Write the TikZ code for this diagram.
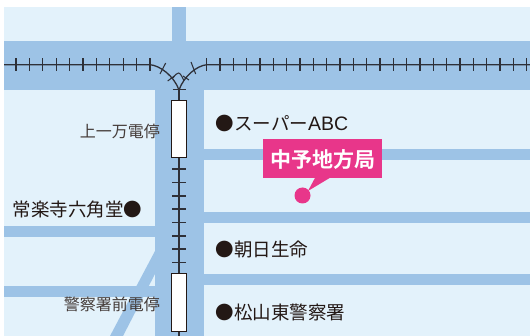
\documentclass[tikz,border=0pt]{standalone}
\usepackage{fontspec}
\setmainfont{Noto Sans CJK JP}
\newfontfamily\cjkbold[BoldFont={Noto Sans CJK JP Bold}]{Noto Sans CJK JP}
\newfontfamily\latinlabel{Liberation Sans}
\definecolor{landc}{HTML}{E3F2FB}
\definecolor{roadc}{HTML}{9DC3E6}
\definecolor{railc}{HTML}{2E3038}
\definecolor{pinkc}{HTML}{E8368A}
\definecolor{textc}{HTML}{231815}
\tikzset{
  road/.style={fill=roadc,draw=none},
  railway/.style={draw=railc,line width=1.3pt},
  tie/.style={draw=railc,line width=1.05pt},
  stopbox/.style={draw=textc,fill=white,line width=1pt,minimum width=15pt,inner sep=0pt},
  placelabel/.style={anchor=west,inner sep=0pt,text=textc,font=\fontsize{18.5}{18.5}\selectfont},
  stoplabel/.style={anchor=east,inner sep=0pt,text=textc!85!white,font=\fontsize{16}{16}\selectfont}
}
\begin{document}
\begin{tikzpicture}[x=1pt,y=-1pt]
\useasboundingbox (0,0) rectangle (530,336);
\fill[white] (0,0) rectangle (530,336);
\fill[landc] (4,7) rectangle (530,336);
% roads
\fill[road] (172,7) rectangle (186,41);
\fill[road] (4,41) rectangle (530,90);
\fill[road] (155,90) rectangle (204,336);
\fill[road] (204,149) rectangle (530,160);
\fill[road] (204,212) rectangle (530,223);
\fill[road] (204,274) rectangle (530,285);
\fill[road] (4,226) rectangle (155,237);
\fill[road] (4,286) rectangle (155,297);
\fill[road] (155,251) -- (155,274) -- (123,336) -- (110,336) -- cycle;
% rails
\draw[railway] (4,64.7) -- (150,64.7) .. controls (160,65.5) and (174,76) .. (179,90);
\draw[railway] (530,64.7) -- (207,64.7) .. controls (197,65.5) and (184,76) .. (179,90);
\draw[railway] (179,90) -- (179,101);
\draw[railway] (179,158) -- (179,274);
\draw[railway] (179,332) -- (179,336);
\foreach \tx in {16,29.4,42.8,56.2,69.6,83,96.4,109.8,123.2,136.6,150}
  \draw[tie] (\tx,58.5) -- (\tx,71);
\foreach \tx in {206.7,220,233.3,246.6,260,273.3,286.6,300,313.3,326.6,340,353.3,366.6,380,393.3,406.6,420,433.3,446.6,460,473.3,486.6,500,513.3,526.6}
  \draw[tie] (\tx,58.5) -- (\tx,71);
\draw[tie] (160,74) -- (165.7,63);
\draw[tie] (191,62) -- (195.7,74);
\draw[tie] (167.7,81) -- (174.3,76);
\draw[tie] (183,76) -- (189,80);
\draw[tie] (172.7,89.3) -- (186,89.3);
\draw[tie] (173,78) .. controls (175,75) and (177,73) .. (178.5,73) .. controls (180,73) and (182,76) .. (184,81);
\foreach \ty in {169,182.5,196,209,222.5,236,249,262.5}
  \draw[tie] (172,\ty) -- (186,\ty);
% stops
\node[stopbox,minimum height=57pt] (stopa) at (179,129.5) {};
\node[stopbox,minimum height=58pt] (stopb) at (179,303) {};
\node[stoplabel] (stopalabel) at (160,131) {上一万電停};
\node[stoplabel] (stopblabel) at (160,304) {警察署前電停};
% places
\node[placelabel] (super) at (215.5,123.5) {●スーパー{\latinlabel\fontsize{19.5}{19.5}\selectfont ABC}};
\node[placelabel] (temple) at (12.5,209.5) {常楽寺六角堂●};
\node[placelabel] (asahi) at (215.5,249.5) {●朝日生命};
\node[placelabel] (school) at (215.5,312.5) {●松山東警察署};
% callout
\fill[pinkc] (263,139) rectangle (382,178);
\fill[pinkc] (316,176) -- (333,176) -- (308,191) -- cycle;
\node[circle,fill=pinkc,minimum size=16pt,inner sep=0pt] (dot) at (302.5,195.5) {};
\node[text=white,inner sep=0pt,font=\cjkbold\bfseries\fontsize{21}{21}\selectfont] (office) at (322.5,160) {中予地方局};
\end{tikzpicture}
\end{document}
